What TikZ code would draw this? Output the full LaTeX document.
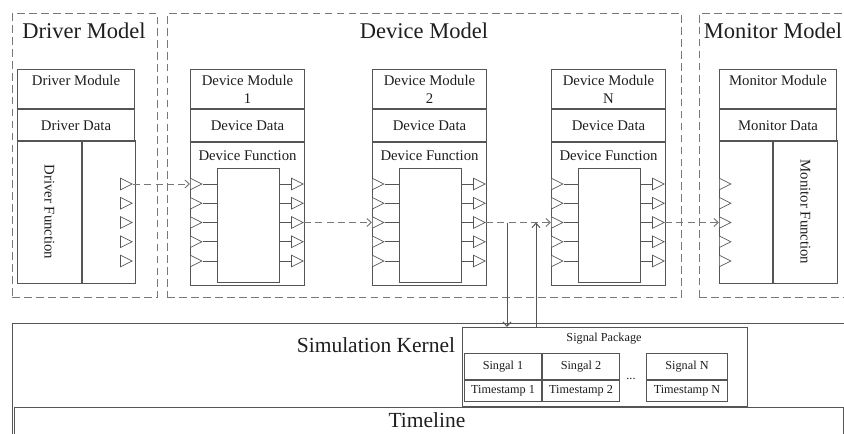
\documentclass[tikz,border=0pt]{standalone}
\usepackage{fontspec}
\setmainfont{Liberation Serif}
\usepackage{tikz}
\usetikzlibrary{
  arrows.meta,
  positioning,
  shapes.geometric
}
\definecolor{simline}{RGB}{85,85,85}
\definecolor{simdash}{RGB}{120,120,120}
\definecolor{simtext}{RGB}{30,30,30}
\tikzset{
  simModel/.style={
    rectangle,
    draw=simdash,
    dash pattern=on 5.5pt off 3pt,
    line width=0.7pt,
    anchor=north west,
    minimum height=7.1cm,
    inner sep=0pt
  },
  simTitle/.style={
    font=\fontsize{16}{18}\selectfont,
    text=simtext,
    inner sep=0pt
  },
  simCell/.style={
    rectangle,
    draw=simline,
    line width=0.7pt,
    inner sep=0pt,
    align=center,
    text=simtext,
    font=\fontsize{10.5}{12.8}\selectfont
  },
  simText/.style={
    inner sep=0pt,
    text=simtext,
    font=\fontsize{10.5}{12.8}\selectfont
  },
  simPort/.style={
    isosceles triangle,
    isosceles triangle stretches,
    draw=simline,
    line width=0.5pt,
    fill=white,
    inner sep=0pt,
    minimum width=0.29cm,
    minimum height=0.29cm
  },
  simSmall/.style={
    rectangle,
    draw=simline,
    line width=0.7pt,
    inner sep=0pt,
    text=simtext,
    font=\fontsize{8.7}{10}\selectfont
  },
  simSmallText/.style={
    inner sep=0pt,
    text=simtext,
    font=\fontsize{8.7}{10}\selectfont
  },
  simLink/.style={
    -{Straight Barb[length=1.1mm,width=2mm]},
    draw=simdash,
    line width=0.7pt,
    dash pattern=on 5pt off 3pt
  },
  simTap/.style={
    -{Straight Barb[length=1.1mm,width=2mm]},
    draw=simline,
    line width=0.7pt
  },
  simWire/.style={
    draw=simline,
    line width=0.7pt
  }
}

\begin{document}
\begin{tikzpicture}[x=0.025cm, y=-0.025cm, node distance=0pt]
  \useasboundingbox (0,0) rectangle (844,434);
  \clip (0,0) rectangle (844,434);

  \node[simModel, minimum width=3.625cm] (drvModel) at (12,13) {};
  \node[simModel, minimum width=12.85cm] (devModel) at (167,13) {};
  \node[simModel, minimum width=4.5cm] (monModel) at (699,13) {};
  \node[simTitle] (drvTitle) at (84,31) {Driver Model};
  \node[simTitle] (devTitle) at (424,31) {Device Model};
  \node[simTitle] (monTitle) at (773,31) {Monitor Model};

  \node[simCell, anchor=north west, minimum width=2.925cm, minimum height=0.975cm]
    (drvHead) at (17,69) {Driver Module\\\mbox{}};
  \node[simCell, below=of drvHead, minimum width=2.925cm, minimum height=0.8cm]
    (drvData) {Driver Data};
  \node[simCell, anchor=north west, minimum width=1.6cm, minimum height=3.575cm]
    (drvFunc) at (17,140) {};
  \node[simCell, right=of drvFunc, minimum width=1.325cm, minimum height=3.575cm]
    (drvOut) {};
  \node[simText, rotate=-90] (drvFuncText) at (drvFunc.center) {Driver Function};
  \foreach \k in {1,...,5}
    \node[simPort, anchor=apex] (drvP\k) at (133,{184+19.25*(\k-1)}) {};

  \foreach \m/\x/\lab in {1/190/1, 2/372/2, N/551/N} {
    \node[simCell, anchor=north west, minimum width=2.85cm, minimum height=0.975cm]
      (dev\m Head) at (\x,69) {Device Module\\\lab};
    \node[simCell, below=of dev\m Head, minimum width=2.85cm, minimum height=0.8cm]
      (dev\m Data) {Device Data};
    \node[simCell, below=of dev\m Data, minimum width=2.85cm, minimum height=3.575cm]
      (dev\m Func) {};
    \node[simText, below=2mm of dev\m Data] (dev\m FuncText) {Device Function};
    \node[simCell, anchor=south west, minimum width=1.55cm, minimum height=2.85cm]
      (dev\m Core) at (\x+27,283) {};
    \foreach \k in {1,...,5} {
      \node[simPort, anchor=lower side] (dev\m In\k) at (\x,{184+19.25*(\k-1)}) {};
      \node[simPort, anchor=apex] (dev\m Out\k) at (\x+114,{184+19.25*(\k-1)}) {};
      \draw[simWire] (dev\m In\k.apex) -- (dev\m In\k.apex -| dev\m Core.west);
      \draw[simWire] (dev\m Out\k.lower side -| dev\m Core.east) -- (dev\m Out\k.lower side);
    }
  }

  \node[simCell, anchor=north west, minimum width=2.925cm, minimum height=0.975cm]
    (monHead) at (719,69) {Monitor Module\\\mbox{}};
  \node[simCell, below=of monHead, minimum width=2.925cm, minimum height=0.8cm]
    (monData) {Monitor Data};
  \node[simCell, anchor=north west, minimum width=1.325cm, minimum height=3.575cm]
    (monIn) at (719,140) {};
  \node[simCell, right=of monIn, minimum width=1.6cm, minimum height=3.575cm]
    (monFunc) {};
  \node[simText, rotate=-90] (monFuncText) at (monFunc.center) {Monitor Function};
  \foreach \k in {1,...,5}
    \node[simPort, anchor=lower side] (monP\k) at (719,{184+19.25*(\k-1)}) {};

  \draw[simLink] (drvP1.apex) -- (dev1In1.lower side);
  \draw[simLink] (dev1Out3.apex) -- (dev2In3.lower side);
  \draw[simLink] (dev2Out3.apex) -- (devNIn3.lower side);
  \draw[simLink] (devNOut3.apex) -- (monP3.lower side);

  \node[simCell, anchor=north west, minimum width=21.5cm, minimum height=4cm]
    (kernel) at (12,323) {};
  \node[simCell, anchor=north west, minimum width=20.725cm, minimum height=2cm]
    (timeline) at (14,407) {};
  \node[simTitle, font=\fontsize{15.3}{17}\selectfont] (kernelText) at (376,345) {Simulation Kernel};
  \node[simTitle, font=\fontsize{15.3}{17}\selectfont] (timelineText) at (427,420) {Timeline};

  \node[simCell, anchor=north west, fill=white, minimum width=7.125cm, minimum height=1.975cm]
    (pkg) at (462,327) {};
  \node[simSmallText] (pkgText) at (604,339) {Signal Package};
  \node[simSmall, anchor=north west, minimum width=1.925cm, minimum height=0.65cm]
    (sig1) at (464,353) {Singal 1};
  \node[simSmall, right=of sig1, minimum width=1.925cm, minimum height=0.65cm]
    (sig2) {Singal 2};
  \node[simSmall, below=of sig1, minimum width=1.925cm, minimum height=0.525cm]
    (stamp1) {Timestamp 1};
  \node[simSmall, below=of sig2, minimum width=1.925cm, minimum height=0.525cm]
    (stamp2) {Timestamp 2};
  \node[simSmall, anchor=north west, minimum width=2.025cm, minimum height=0.65cm]
    (sigN) at (646,353) {Signal N};
  \node[simSmall, below=of sigN, minimum width=2.025cm, minimum height=0.525cm]
    (stampN) {Timestamp N};
  \node[simSmallText] (sigDots) at (631,379) {...};

  \coordinate (tapDown) at (507,0);
  \coordinate (tapUp) at (536,0);
  \draw[simTap] (tapDown |- dev2Out3.apex) -- (tapDown |- pkg.north);
  \draw[simTap] (tapUp |- pkg.north) -- (tapUp |- dev2Out3.apex);
\end{tikzpicture}
\end{document}
